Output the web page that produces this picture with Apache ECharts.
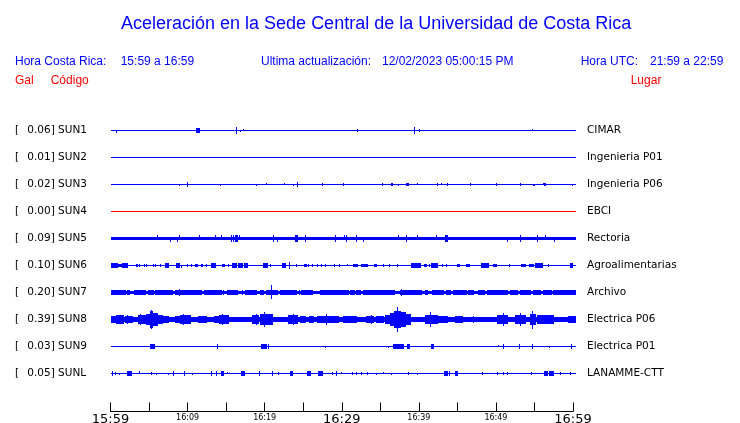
<!DOCTYPE html>
<html><head><meta charset="utf-8">
<script src="https://cdn.jsdelivr.net/npm/echarts@6/dist/echarts.min.js"></script>
<style>html,body{margin:0;padding:0;background:#fff}#c{width:740px;height:423px}</style>
</head><body><div id="c"></div>
<script>
// ---------------- DATA ----------------
const titleText = 'Aceleración en la Sede Central de la Universidad de Costa Rica';
const localTimeLabel = 'Hora Costa Rica:';
const localTimeRange = '15:59 a 16:59';
const updateLabel = 'Ultima actualización:';
const updateValue = '12/02/2023 05:00:15 PM';
const utcLabel = 'Hora UTC:';
const utcRange = '21:59 a 22:59';
const colHeaders = ['Gal', 'Código', 'Lugar'];

const stationCodes = ['SUN1','SUN2','SUN3','SUN4','SUN5','SUN6','SUN7','SUN8','SUN9','SUNL'];
const peakGal = ['0.06','0.01','0.02','0.00','0.09','0.10','0.20','0.39','0.03','0.05'];
const places = ['CIMAR','Ingenieria P01','Ingenieria P06','EBCI','Rectoria','Agroalimentarias','Archivo','Electrica P06','Electrica P01','LANAMME-CTT'];

// x axis: minutes after 15:59
const tickMinutes = [0, 10, 20, 30, 40, 50, 60];
const tickLabels = ['15:59', '16:09', '16:19', '16:29', '16:39', '16:49', '16:59'];
const majorTickLabels = ['15:59', '16:29', '16:59'];
const traceEnd = 60.2;

// background noise half-amplitude of each trace (trace units)
const noiseLevel = [0, 0, 0, 0, 1.5, 0, 1, 2, 0, 0];

// wave segments: [startMinute, endMinute, amplitudeUp, amplitudeDown] (trace units)
const sun1 = [[0.75,0.75,0,2],[11.1,11.5,2,2],[16.3,16.3,3,3],[16.8,16.8,0,1],[17.2,17.2,1,0],[32.0,32.0,1.5,1.5],[39.4,39.4,3,3],[40.0,40.0,1.5,1.5],[54.7,54.7,1,0]];
const sun2 = [];
const sun3 = [[8.92,8.92,0,1],[9.96,9.96,2,2],[14.24,14.24,0,1],[18.91,18.91,0,1],[20.21,20.21,1,0],[22.54,22.54,1,0],[23.71,23.71,0,1],[24.23,24.23,2,2],[27.47,27.47,1.5,1.5],[30.19,30.19,1.5,1.5],[35.25,35.25,1.5,1.5],[36.38,36.57,1.5,1.5],[37.33,37.33,0,1],[38.33,38.59,1.5,1.5],[39.79,39.79,1,0],[42.39,42.39,1.5,1.5],[42.91,42.91,1,0],[43.69,43.69,1.5,1.5],[46.67,46.67,1.5,1.5],[50.04,50.04,1.5,1.5],[53.16,53.16,1.5,1.5],[54.81,54.81,0,1],[54.97,54.97,0,1],[56.06,56.06,1,0],[56.23,56.42,1.5,1.5],[59.90,59.90,0,1]];
const sun4 = [];
const sun5 = [[6.07,6.07,3.5,0],[7.76,7.76,0,3],[8.59,8.59,0,3],[8.92,8.92,3,0],[11.52,11.52,3,0],[13.60,13.60,3,0],[14.37,14.37,3,0],[15.67,15.67,3,3],[15.93,15.93,3,3],[16.15,16.41,3,3],[16.71,16.71,3,0],[21.12,21.12,3,3],[21.6,21.6,0,3],[23.93,24.13,3.5,3.5],[25.27,25.27,3,3],[29.12,29.12,3,3],[30.33,30.33,3,0],[30.61,30.61,3,3],[31.89,31.89,3,3],[32.75,32.75,0,3],[37.25,37.25,3,0],[38.37,38.37,3,3],[39.76,39.76,3,0],[42.19,42.19,3,0],[43.33,43.59,3,3],[51.44,51.44,0,3],[53.09,53.09,3,3],[55.29,55.29,3,3],[56.41,56.41,3,0],[57.50,57.50,0,3]];
const sun6 = [[0,0.80,2,2],[0.97,1.32,1.5,1.5],[1.49,2.10,2,2],[3.31,3.48,1.5,1.5],[3.74,3.74,1.5,1.5],[4.31,4.31,1.5,1.5],[4.64,4.64,1.5,1.5],[5.47,5.55,1.5,1.5],[5.81,5.81,1.5,1.5],[6.42,6.42,1.5,1.5],[7.11,7.50,2,2],[8.53,8.89,2,2],[9.15,9.15,0,2.5],[9.96,9.96,1.5,1.5],[10.48,10.48,1.5,1.5],[11.0,11.18,1.5,1.5],[11.74,11.91,1.5,1.5],[12.35,12.35,1.5,1.5],[13.08,13.60,2,2],[14.43,14.76,1.5,1.5],[15.28,15.28,1.5,1.5],[15.72,16.28,2,2],[16.54,17.10,2,2],[17.28,17.75,2,2],[19.82,20.26,2,2],[20.69,20.69,1.5,1.5],[22.25,22.64,2,2],[23.16,23.16,3.5,3.5],[24.02,24.02,1.5,1.5],[25.10,25.32,1.5,1.5],[25.66,25.66,1.5,1.5],[26.18,26.18,1.5,1.5],[26.83,26.83,1.5,1.5],[27.31,27.31,1.5,1.5],[27.83,27.83,1.5,1.5],[28.95,28.95,1.5,1.5],[29.60,29.60,1.5,1.5],[30.64,30.64,1.5,0],[31.42,31.94,1.5,1.5],[32.50,33.24,1.5,1.5],[34.22,34.44,1.5,1.5],[35.39,35.39,1.5,1.5],[36.09,36.09,1.5,1.5],[37.13,37.13,1.5,1.5],[39.02,40.15,2,2],[40.63,40.93,1.5,1.5],[41.28,41.28,1.5,1.5],[41.62,42.39,2,2],[43.04,43.04,1.5,1.5],[43.56,43.56,1.5,1.5],[44.99,45.21,1.5,1.5],[46.12,46.47,1.5,1.5],[48.10,48.97,2,2],[49.66,49.97,1.5,1.5],[51.66,51.66,1.5,1.5],[53.25,53.73,1.5,1.5],[54.33,54.77,1.5,1.5],[55.11,55.94,2,2],[56.80,56.80,1.5,1.5],[59.57,59.87,2,2]];
const sun7 = [[0,1.88,2,2],[2.14,2.44,2,2],[3.05,4.48,2,2],[4.83,5.55,2,2],[5.77,7.16,2,2],[7.29,7.94,2,2],[8.37,9.24,2,2],[8.92,8.92,3.5,3.5],[9.44,11.18,2,2],[11.31,11.74,2,2],[12.09,12.61,2,2],[12.78,13.91,2,2],[14.01,14.34,2,2],[14.63,14.63,2,2],[15.05,15.24,2,2],[15.41,16.37,2,2],[17.10,17.10,2,2],[17.49,18.88,2,2],[19.39,19.82,2,2],[20.13,21.64,2,2],[20.82,20.82,7,6],[21.99,24.06,2,2],[24.45,24.45,2,2],[24.71,26.14,2,2],[27.18,28.47,2,2],[28.61,30.85,2,2],[31.07,31.63,2,2],[31.85,32.37,2,2],[32.80,35.18,2,2],[35.39,36.78,2,2],[37.56,40.28,2,2],[37.69,37.69,3,3],[40.80,41.10,2,2],[41.67,43.10,2,2],[43.52,44.04,2,2],[44.47,46.12,2,2],[46.42,47.07,2,2],[47.71,48.45,2,2],[48.80,51.40,2,2],[51.83,52.70,2,2],[53.12,54.42,2,2],[54.85,55.72,2,2],[56.15,57.11,2,2],[57.44,60.2,2,2]];
const sun8 = [[0,0.67,3,3],[0.71,1.58,4,4],[1.88,2.75,3.5,3.5],[2.14,2.14,4.5,4.5],[3.53,4.48,4.5,4.5],[3.87,3.87,5.5,5.5],[4.57,5.12,5,5],[5.12,5.42,8,8],[5.25,5.25,9.5,9.5],[5.47,6.03,6,6],[6.03,6.64,4.5,4.5],[6.72,7.50,3,3],[8.37,9.02,3.5,3.5],[9.02,10.31,4,4],[9.44,9.44,5.5,5.5],[11.39,12.39,3,3],[13.43,13.98,3,3],[14.11,15.28,4,4],[14.43,14.43,5,5],[18.32,19.17,4,4],[18.84,18.84,5,5],[19.39,20.91,5,5],[19.91,19.91,7.3,6.7],[21.99,21.99,2.5,2.5],[23.07,24.16,4,4],[23.64,23.64,5,5],[24.58,25.23,3,3],[25.79,26.31,3,3],[26.75,29.55,3.5,3.5],[27.92,27.92,5.5,5.5],[30.12,30.85,3,3],[30.98,31.85,3,3],[33.15,34.09,3,3],[33.79,33.79,4,4],[34.44,35.39,3,3],[35.61,36.26,4,4],[36.26,36.78,6,6],[36.78,37.56,8,8],[37.13,37.13,12,12.4],[37.56,38.20,7,7],[38.20,38.85,5,5],[39.50,40.58,2.5,2.5],[40.80,42.32,4.5,4.5],[41.45,41.45,7,7],[42.53,43.62,3,3],[44.69,45.56,3,3],[47.07,47.07,3.5,3.5],[48.36,48.36,2.5,2.5],[50.10,51.40,4.5,4.5],[50.88,50.88,6,6],[52.48,53.77,4.5,4.5],[53.12,53.12,6.5,6.5],[54.42,55.07,5,5],[54.72,54.72,8,9],[55.29,57.44,4,4],[59.39,60.2,3.5,3.5]];
const sun9 = [[5.12,5.64,2,2],[13.78,13.78,2,2],[19.56,20.13,2,2],[20.47,20.47,2,2],[27.87,27.87,0,1],[35.96,35.96,0,1],[36.69,37.98,2,2],[38.43,38.72,2,2],[41.62,41.84,2,2],[50.31,50.31,1.5,0],[50.88,50.88,2,2],[52.99,52.99,2,2],[54.72,54.72,2,2],[56.93,56.93,0,1],[59.78,59.78,2,2]];
const sunl = [[0.16,0.16,2,2],[0.62,0.62,1.5,1.5],[1.06,1.06,0,1],[2.18,2.62,2,2],[3.70,3.70,2,0],[5.25,5.25,1.5,1.5],[5.90,5.90,0,1],[7.50,7.50,0,1],[8.07,8.07,2,2],[9.54,9.54,2,2],[10.57,10.57,0,1],[13.08,13.08,2,2],[13.73,13.73,2,2],[14.33,14.63,2,2],[15.11,15.11,1.5,0],[16.97,17.32,2,2],[19.23,19.23,2,2],[20.91,20.91,2,2],[21.77,21.77,1.5,1.5],[23.29,23.51,2,2],[25.45,25.88,2,2],[26.96,27.40,2,2],[28.74,28.74,1.5,1.5],[29.29,29.29,2,2],[29.86,29.86,1,0],[31.29,31.29,1.5,1.5],[31.85,31.85,1.5,1.5],[32.50,32.50,1.5,1.5],[33.24,33.24,1.5,1.5],[34.44,34.44,0,1],[35.39,35.39,1,0],[36.39,36.39,0,1],[38.63,38.63,1.5,1.5],[39.80,39.80,0,1],[43.30,43.69,2,2],[43.95,43.95,2,2],[44.73,44.99,2,2],[48.16,48.16,1.5,1.5],[50.10,50.10,1.5,1.5],[50.88,50.88,1.5,1.5],[51.40,51.40,1.5,1.5],[54.51,54.51,1.5,1.5],[56.24,56.62,2,2],[56.88,57.40,2,2],[58.31,58.31,1.5,1.5],[59.61,59.61,1.5,1.5]];
const traces = [sun1, sun2, sun3, sun4, sun5, sun6, sun7, sun8, sun9, sunl];

// ---------------- STYLE / LAYOUT ----------------
const ROW = 27; // trace units per row
const BLUE = '#0000ff', RED = '#ff0000';
const traceColors = stationCodes.map(c => c === 'SUN4' ? RED : BLUE);
const SANS = '"Liberation Sans", Arial, sans-serif';
const DV = '"DejaVu Sans", sans-serif';

function makeRender(row, color) {
  return function (params, api) {
    const base = ROW * (row + 0.5);
    const p0 = api.coord([api.value(0), base - api.value(2)]);
    const p1 = api.coord([api.value(1), base + api.value(3)]);
    const x0 = Math.round(p0[0]);
    const x1 = Math.round(p1[0]) + 1;
    const y0 = Math.floor(p0[1]);
    const y1 = Math.ceil(p1[1]);
    return {
      type: 'rect',
      shape: { x: x0, y: y0, width: Math.max(1, x1 - x0), height: Math.max(1, y1 - y0) },
      style: { fill: color }
    };
  };
}

const series = [];
traces.forEach((segs, i) => {
  // baseline of the trace, optional noise band, then the recorded wave segments
  const data = [[0, traceEnd, 0, 0]]
    .concat(noiseLevel[i] > 0 ? [[0, traceEnd, noiseLevel[i], noiseLevel[i]]] : [])
    .concat(segs);
  series.push({
    type: 'custom', xAxisIndex: 0, yAxisIndex: 0, silent: true, clip: false,
    animation: false, data: data, renderItem: makeRender(i, traceColors[i])
  });
});

function txt(x, y, text, size, color, family) {
  return { type: 'text', x: x, y: y, silent: true,
    style: { text: text, font: size + 'px ' + (family || SANS), fill: color, align: 'left', verticalAlign: 'middle' } };
}

const option = {
  animation: false,
  backgroundColor: '#fff',
  grid: { left: 110.5, top: 117, width: 462.5, height: ROW * 10, containLabel: false, outerBoundsMode: 'none' },
  xAxis: {
    type: 'value', min: 0, max: 60, interval: 5, position: 'bottom', offset: 24.5,
    splitLine: { show: false },
    axisLine: { show: true, onZero: false, lineStyle: { color: '#000', width: 1 } },
    axisTick: { show: true, inside: true, length: 9, lineStyle: { color: '#000', width: 1 } },
    axisLabel: {
      show: true, margin: 2, showMinLabel: true, showMaxLabel: true, hideOverlap: false,
      formatter: function (v) {
        const k = tickMinutes.indexOf(v);
        if (k < 0) return '';
        const s = tickLabels[k];
        return majorTickLabels.indexOf(s) >= 0 ? '{big|' + s + '}' : '{small|' + s + '}';
      },
      rich: {
        big: { fontSize: 13, fontFamily: DV, color: '#000' },
        small: { fontSize: 8, fontFamily: DV, color: '#000' }
      }
    }
  },
  yAxis: [
    { type: 'value', min: 0, max: ROW * 10, inverse: true, show: false, splitLine: { show: false } },
    { type: 'category', data: stationCodes, inverse: true, position: 'left',
      axisLine: { show: false }, axisTick: { show: false }, splitLine: { show: false },
      axisLabel: { interval: 0, align: 'left', margin: 95.5,
        formatter: function (v, idx) { return '{b|[}{v|' + peakGal[idx] + '] ' + v + '}'; },
        rich: { b: { width: 12.3, fontSize: 10.5, fontFamily: DV, color: '#000' },
                v: { fontSize: 10.5, fontFamily: DV, color: '#000' } } } },
    { type: 'category', data: places, inverse: true, position: 'right',
      axisLine: { show: false }, axisTick: { show: false }, splitLine: { show: false },
      axisLabel: { interval: 0, align: 'left', margin: 14, fontSize: 10.5, fontFamily: DV, color: '#000' } }
  ],
  series: series,
  graphic: [
    txt(121, 24.2, titleText, 18, BLUE),
    txt(15, 61.3, localTimeLabel, 12, BLUE),
    txt(120.7, 61.3, localTimeRange, 12, BLUE),
    txt(261, 61.3, updateLabel, 12, BLUE),
    txt(382, 61.3, updateValue, 12, BLUE),
    txt(580.7, 61.3, utcLabel, 12, BLUE),
    txt(650, 61.3, utcRange, 12, BLUE),
    txt(15, 80.7, colHeaders[0], 12, RED),
    txt(50.7, 80.7, colHeaders[1], 12, RED),
    txt(630.7, 80.7, colHeaders[2], 12, RED)
  ]
};

const chart = echarts.init(document.getElementById('c'), null, { renderer: 'canvas' });
chart.setOption(option);
</script>
</body></html>
